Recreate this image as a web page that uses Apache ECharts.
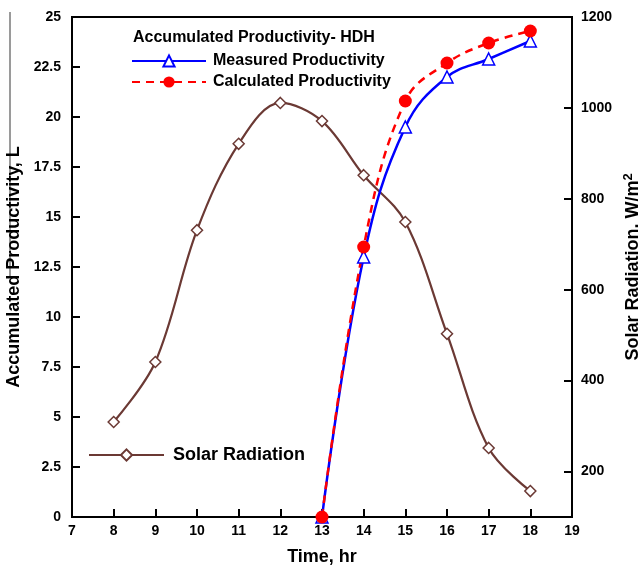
<!DOCTYPE html>
<html>
<head>
<meta charset="utf-8">
<script src="https://cdn.jsdelivr.net/npm/echarts@6/dist/echarts.min.js"></script>
<style>html,body{margin:0;padding:0;background:#fff}#c{width:638px;height:569px}</style>
</head>
<body>
<div id="c"></div>
<script>
const hours = [8, 9, 10, 11, 12, 13, 14, 15, 16, 17, 18];
const solarRadiation = [309, 441, 731, 921, 1011, 971, 852, 749, 503, 252, 157];
const prodHours = [13, 14, 15, 16, 17, 18];
const measured = [0, 13.0, 19.5, 22.0, 22.9, 23.8];
const calculated = [0, 13.5, 20.8, 22.7, 23.7, 24.3];
const rightTicks = [200, 400, 600, 800, 1000, 1200];

const FONT = 'Liberation Sans';
const chart = echarts.init(document.getElementById('c'));
const pair = (xs, ys) => xs.map((x, i) => [x, ys[i]]);

chart.setOption({
  animation: false,
  textStyle: { fontFamily: FONT },
  title: {
    text: 'Accumulated Productivity- HDH',
    left: 128, top: 25,
    textStyle: { fontFamily: FONT, fontWeight: 'bold', fontSize: 16, color: '#000' }
  },
  legend: [
    {
      data: ['Measured Productivity', 'Calculated Productivity'],
      orient: 'vertical', left: 126, top: 48, itemWidth: 74, itemHeight: 14, itemGap: 5,
      textStyle: { fontFamily: FONT, fontWeight: 'bold', fontSize: 16, color: '#000', padding: [0, 0, 0, 2] }
    },
    {
      data: ['Solar Radiation'],
      left: 83, top: 441, itemWidth: 75, itemHeight: 14,
      textStyle: { fontFamily: FONT, fontWeight: 'bold', fontSize: 18, color: '#000', padding: [0, 0, 0, 4] }
    }
  ],
  grid: { left: 72, right: 66, top: 17, bottom: 52, show: true, borderColor: '#000', borderWidth: 2, outerBoundsMode: 'none', containLabel: false },
  xAxis: {
    type: 'value', min: 7, max: 19, interval: 1,
    name: 'Time, hr', nameLocation: 'middle', nameGap: 31,
    nameTextStyle: { fontFamily: FONT, fontWeight: 'bold', fontSize: 18, color: '#000' },
    axisLine: { lineStyle: { color: '#000', width: 2 } },
    axisTick: { inside: true, length: 8, lineStyle: { color: '#000', width: 2 } },
    axisLabel: { fontFamily: FONT, fontWeight: 'bold', fontSize: 14, color: '#000', margin: 7 },
    splitLine: { show: false }
  },
  yAxis: [
    {
      type: 'value', min: 0, max: 25, interval: 2.5,
      name: 'Accumulated Productivity, L', nameLocation: 'middle', nameGap: 46, nameRotate: 90,
      nameTextStyle: { fontFamily: FONT, fontWeight: 'bold', fontSize: 18, color: '#000' },
      axisLine: { show: true, lineStyle: { color: '#000', width: 2 } },
      axisTick: { inside: true, length: 8, lineStyle: { color: '#000', width: 2 } },
      axisLabel: { fontFamily: FONT, fontWeight: 'bold', fontSize: 14, color: '#000', margin: 11 },
      splitLine: { show: false }
    },
    {
      type: 'value', min: 100, max: 1200, position: 'right',
      name: 'Solar Radiation, W/m{sup|2}', nameLocation: 'middle', nameGap: 50, nameRotate: 90,
      nameMoveOverlap: false,
      nameTextStyle: {
        fontFamily: FONT, fontWeight: 'bold', fontSize: 18, color: '#000',
        rich: { sup: { fontFamily: FONT, fontWeight: 'bold', fontSize: 13, color: '#000', verticalAlign: 'top', padding: [0, 0, 10, 0] } }
      },
      axisLine: { show: true, lineStyle: { color: '#000', width: 2 } },
      axisTick: { inside: true, length: 8, customValues: rightTicks.slice(0, 5), lineStyle: { color: '#000', width: 2 } },
      axisLabel: { fontFamily: FONT, fontWeight: 'bold', fontSize: 14, color: '#000', margin: 9, customValues: rightTicks, formatter: v => String(v) },
      splitLine: { show: false }
    }
  ],
  graphic: [
    { type: 'line', shape: { x1: 10, y1: 12, x2: 10, y2: 278 }, style: { stroke: '#9a9a9a', lineWidth: 2 } }
  ],
  series: [
    {
      name: 'Solar Radiation', type: 'line', yAxisIndex: 1, smooth: 0.35,
      data: pair(hours, solarRadiation),
      symbol: 'diamond', symbolSize: 11,
      lineStyle: { color: '#6b3934', width: 2.2 },
      itemStyle: { color: '#fff', borderColor: '#6b3934', borderWidth: 1.5 }
    },
    {
      name: 'Measured Productivity', type: 'line', yAxisIndex: 0, smooth: 0.4,
      data: pair(prodHours, measured),
      symbol: 'triangle', symbolSize: 12,
      lineStyle: { color: '#0000ff', width: 2.5 },
      itemStyle: { color: '#fff', borderColor: '#0000ff', borderWidth: 1.5 }
    },
    {
      name: 'Calculated Productivity', type: 'line', yAxisIndex: 0, smooth: 0.4,
      data: pair(prodHours, calculated),
      symbol: 'circle', symbolSize: 13,
      lineStyle: { color: '#ff0000', width: 2.5, type: [8, 6] },
      itemStyle: { color: '#ff0000', borderColor: '#ff0000', borderWidth: 0 }
    }
  ]
});
</script>
</body>
</html>
